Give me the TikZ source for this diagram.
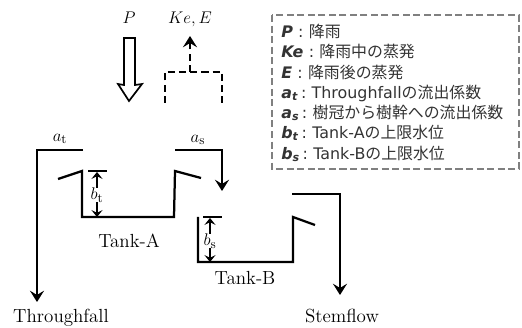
\documentclass[tikz,border=0pt]{standalone}
\usepackage{fontspec}
\newfontfamily\legendfont{DejaVu Sans}
\newfontfamily\cjk{Noto Sans CJK JP}
\usetikzlibrary{arrows.meta}
\definecolor{boxgray}{gray}{.5}
\definecolor{legendink}{gray}{.2}
\tikzset{wall/.style={line width=1.6pt,line join=miter},
 flow/.style={line width=1.5pt,-{Stealth[length=8pt,width=10pt,inset=3pt]}},
 gauge/.style={line width=1pt,-{Stealth[length=5pt,width=8pt,inset=2pt]}},
 lbl/.style={inner sep=0pt,font=\fontsize{13.5}{15}\selectfont},
 sym/.style={inner sep=0pt,font=\fontsize{13}{15}\selectfont\itshape},
 legend/.style={anchor=west,inner sep=0pt,text=legendink,font=\legendfont\fontsize{11.3}{14}\selectfont}}
\newcommand{\symb}[1]{\textbf{\textit{#1}}\,\,:\,\,}
\newcommand{\subsymb}[2]{\textbf{\textit{#1}}\textsubscript{\textbf{\textit{#2}}}\,:\,\,}
\begin{document}
\begin{tikzpicture}[x=.025cm,y=-.025cm]
\useasboundingbox (0,0) rectangle (522,328);
% rain and evaporation
\node[sym] (rain) at (129,18){$P$}; \node[sym] (evap) at (190,19){$Ke,E$};
\draw[line width=1.2pt,line join=miter] (124,38)--(135,38)--(135,85)--(142,84)--(129,101)--(118,84)--(124,85)--cycle;
\coordinate (evapL) at (165,103); \coordinate (evapLt) at (165,72); \coordinate (evapRt) at (222,72); \coordinate (evapR) at (222,103);
\coordinate (evapM) at (190,72); \coordinate (evapUp) at (190,36);
\draw[wall,dash pattern=on 5pt off 3pt] (evapL)--(evapLt)--(evapRt)--(evapR);
\draw[flow,dash pattern=on 5pt off 3pt] (evapM)--(evapUp);
% overflow lines
\node[sym] (at) at (60,139){$a_{\mathrm{t}}$}; \node[sym] (as) at (198,140){$a_{\mathrm{s}}$};
\coordinate (atS) at (83,150); \coordinate (atC) at (37,150); \coordinate (atE) at (37,302);
\draw[flow] (atS)--(atC)--(atE);
\coordinate (asS) at (175,150); \coordinate (asC) at (222,150); \coordinate (asE) at (222,191);
\draw[flow] (asS)--(asC)--(asE);
\coordinate (sfS) at (292,194); \coordinate (sfC) at (340,194); \coordinate (sfE) at (340,295);
\draw[flow] (sfS)--(sfC)--(sfE);
\node[lbl,anchor=base] (tf) at (61,323){Throughfall}; \node[lbl,anchor=base] (sf) at (342,323){Stemflow};
% tank A
\coordinate (aL) at (82,171); \coordinate (aBL) at (82,217); \coordinate (aBR) at (174,217); \coordinate (aR) at (175,171);
\draw[wall] (58,179)--(aL)--(aBL)--(aBR)--(aR)--(201,178);
\node[lbl] (tankA) at (129,241){Tank-A};
\coordinate (btT) at (97,172); \coordinate (btB) at (97,217);
\draw[line width=1.2pt] (88,171)--(107,171);
\node[sym] (bt) at (97,195){$b_{\mathrm{t}}$};
\draw[gauge] (bt.north)--(btT); \draw[gauge] (bt.south)--(btB);
% tank B
\coordinate (bL) at (198,217); \coordinate (bBL) at (198,262); \coordinate (bBR) at (293,262); \coordinate (bR) at (293,217);
\draw[wall] (bL)--(bBL)--(bBR)--(bR)--(315,225);
\node[lbl] (tankB) at (245,278){Tank-B};
\coordinate (bsT) at (210,218); \coordinate (bsB) at (210,262);
\draw[line width=1.2pt] (203,217)--(222,217);
\node[sym] (bs) at (210,241){$b_{\mathrm{s}}$};
\draw[gauge] (bs.north)--(bsT); \draw[gauge] (bs.south)--(bsB);
% legend
\draw[boxgray,line width=1.1pt,dash pattern=on 5pt off 2.5pt] (272,15) rectangle (519,169);
\node[legend] (l1) at (281,31){\symb{P}{\cjk 降雨}};
\node[legend] (l2) at (281,51){\symb{Ke}{\cjk 降雨中の蒸発}};
\node[legend] (l3) at (281,72){\symb{E}{\cjk 降雨後の蒸発}};
\node[legend] (l4) at (281,93){\subsymb{a}{t}Throughfall{\cjk の流出係数}};
\node[legend] (l5) at (281,113){\subsymb{a}{s}{\cjk 樹冠から樹幹への流出係数}};
\node[legend] (l6) at (281,133){\subsymb{b}{t}Tank-A{\cjk の上限水位}};
\node[legend] (l7) at (281,154){\subsymb{b}{s}Tank-B{\cjk の上限水位}};
\end{tikzpicture}
\end{document}
